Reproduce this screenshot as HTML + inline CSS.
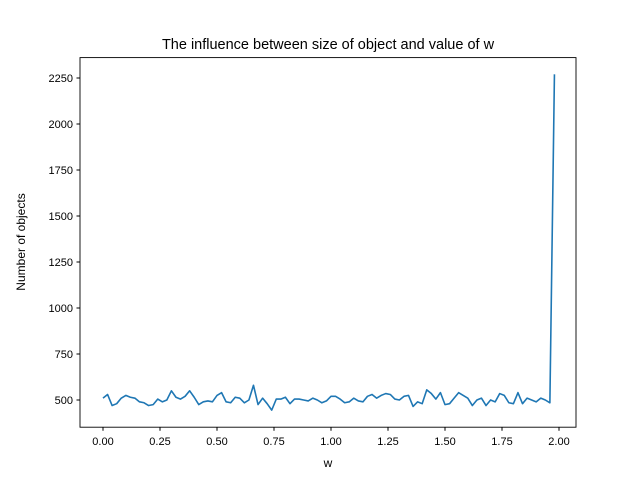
<!DOCTYPE html>
<html><head><meta charset="utf-8"><style>body{margin:0;background:#fff}svg text{font-family:"Liberation Sans","DejaVu Sans",sans-serif;fill:#000}</style></head>
<body>
<svg id="chart" width="640" height="480">
<rect width="640" height="480" fill="#fff"/>
<text x="328" y="49" font-size="14.5" text-anchor="middle">The influence between size of object and value of w</text>
<g id="xt"></g><g id="yt"></g>
<path id="line" fill="none" stroke="#1f77b4" stroke-width="1.6" stroke-linejoin="round"/>
<rect x="80" y="57.6" width="496" height="369.6" fill="none" stroke="#000" stroke-width="0.9"/>
<text x="328" y="467" font-size="12" text-anchor="middle">w</text>
<text transform="translate(25,242) rotate(-90)" font-size="12" text-anchor="middle">Number of objects</text>
</svg>
<script>
const counts=[510,530,470,480,510,525,515,510,490,485,470,475,505,490,500,550,515,505,520,550,515,475,490,495,490,525,540,490,485,515,510,485,500,580,475,510,480,445,505,505,515,480,505,505,500,495,510,500,485,495,520,520,505,485,490,510,495,490,520,530,510,525,535,530,505,500,520,525,465,490,480,555,535,505,540,475,480,510,540,525,510,470,500,510,470,500,490,535,525,485,480,540,480,510,500,490,510,500,485,2270];
const wStep=0.02;
const xTicks=[0,0.25,0.5,0.75,1.0,1.25,1.5,1.75,2.0];
const yTicks=[500,750,1000,1250,1500,1750,2000,2250];
const X=v=>103+v*228, Y=v=>400-(v-500)*0.184;
const ns="http://www.w3.org/2000/svg";
document.getElementById('line').setAttribute('d',counts.map((c,i)=>(i?'L':'M')+X(i*wStep).toFixed(2)+','+Y(c).toFixed(2)).join(''));
const xt=document.getElementById('xt'),yt=document.getElementById('yt');
xTicks.forEach(t=>{const l=document.createElementNS(ns,'line');l.setAttribute('x1',X(t));l.setAttribute('x2',X(t));l.setAttribute('y1',427.2);l.setAttribute('y2',430.7);l.setAttribute('stroke','#000');


xt.appendChild(l);const s=document.createElementNS(ns,'text');s.setAttribute('x',X(t));s.setAttribute('y',445);s.setAttribute('font-size','11');s.setAttribute('text-anchor','middle');s.textContent=t.toFixed(2);


xt.appendChild(s);});
yTicks.forEach(t=>{const l=document.createElementNS(ns,'line');l.setAttribute('x1',76.5);l.setAttribute('x2',80);l.setAttribute('y1',Y(t));l.setAttribute('y2',Y(t));l.setAttribute('stroke','#000');


yt.appendChild(l);const s=document.createElementNS(ns,'text');s.setAttribute('x',73);s.setAttribute('y',Y(t)+4);s.setAttribute('font-size','11');s.setAttribute('text-anchor','end');s.textContent=t;


yt.appendChild(s);});
</script>
</body></html>
